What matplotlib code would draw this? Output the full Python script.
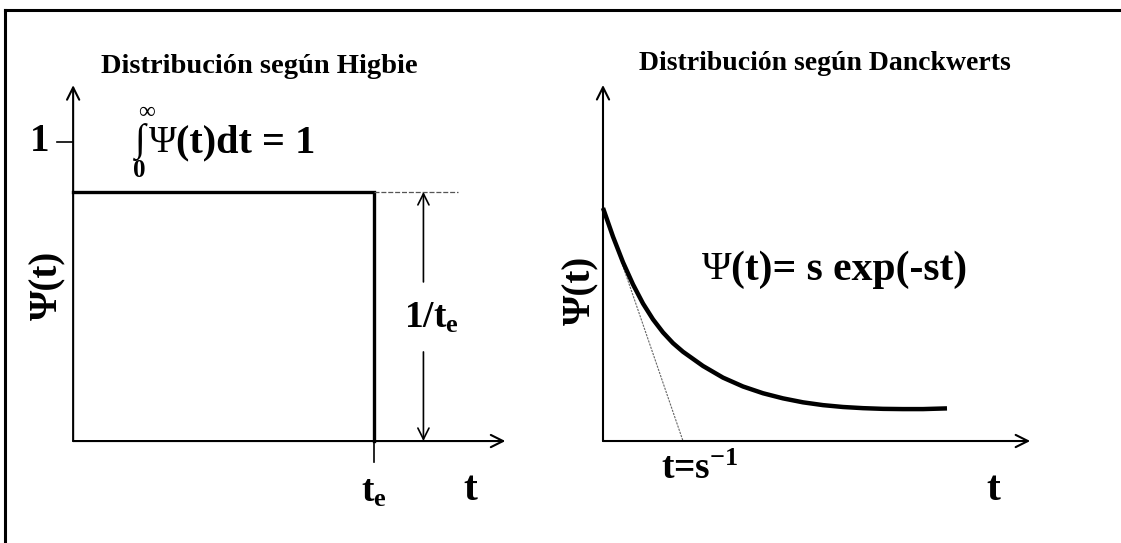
import matplotlib.pyplot as plt
import numpy as np

plt.rcParams['font.family'] = ['Liberation Serif', 'DejaVu Serif']
plt.rcParams['font.weight'] = 'bold'
plt.rcParams['mathtext.fontset'] = 'custom'
plt.rcParams['mathtext.rm'] = 'Liberation Serif:bold'
plt.rcParams['mathtext.it'] = 'Liberation Serif:bold'
plt.rcParams['mathtext.bf'] = 'Liberation Serif:bold'

# Higbie: uniform age distribution up to t_e
t_e = 1.0
psi_higbie = 0.833

# Danckwerts: psi(t) curve, t in units of 1/s, psi in units of s
t_dk = [0.0, 0.125, 0.25, 0.375, 0.5, 0.625, 0.75, 0.875, 1.0, 1.25, 1.5,
        1.75, 2.0, 2.25, 2.5, 2.75, 3.0, 3.25, 3.5, 3.75, 4.0, 4.3]
psi_dk = [1.00, 0.877, 0.767, 0.672, 0.59, 0.522, 0.466, 0.42, 0.383,
          0.322, 0.272, 0.234, 0.205, 0.183, 0.166, 0.154, 0.146, 0.141,
          0.138, 0.137, 0.137, 0.14]
t_tangent = [0.0, 1.0]
psi_tangent = [1.0, 0.0]

fig = plt.figure(figsize=(11.21, 5.43), dpi=100)

# frame around the figure (top and left edges only)
frame = fig.add_axes([5 / 1121, 0, 1, 533 / 543])
frame.set_xticks([])
frame.set_yticks([])
for side in ['right', 'bottom']:
    frame.spines[side].set_visible(False)
for side in ['top', 'left']:
    frame.spines[side].set_linewidth(2.2)
frame.patch.set_alpha(0)


def axis_arrow(ax, tip, lw=1.5):
    ax.annotate('', xy=tip, xytext=(0, 0),
                arrowprops=dict(arrowstyle='->', lw=lw, color='black',
                                mutation_scale=22, shrinkA=0, shrinkB=0))


# ---- left panel: Higbie ----
ax1 = fig.add_axes([40 / 1121, 23 / 543, 500 / 1121, 480 / 543])
ax1.set_xlim(-0.11, 1.55)
ax1.set_ylim(-0.264, 1.341)
ax1.axis('off')

axis_arrow(ax1, (1.435, 0))
axis_arrow(ax1, (0, 1.19))
ax1.plot([0, t_e, t_e], [psi_higbie, psi_higbie, 0], color='black', lw=2.4,
         solid_joinstyle='miter')
ax1.plot([t_e, t_e], [0, -0.07], color='black', lw=1.2)
ax1.plot([t_e, 1.279], [psi_higbie, psi_higbie], color='#555555', lw=0.9,
         ls=(0, (4, 1.5)))
ax1.plot([-0.053, 0], [1, 1], color='black', lw=1.2)

# height marker 1/t_e
ax1.annotate('', xy=(1.163, psi_higbie), xytext=(1.163, 0.532),
             arrowprops=dict(arrowstyle='->', lw=1.2, color='black',
                             mutation_scale=20, shrinkA=0, shrinkB=0))
ax1.annotate('', xy=(1.163, 0), xytext=(1.163, 0.298),
             arrowprops=dict(arrowstyle='->', lw=1.2, color='black',
                             mutation_scale=20, shrinkA=0, shrinkB=0))
ax1.text(1.19, 0.41, r'1/t$_\mathrm{e}$', fontsize=27, ha='center', va='center')

ax1.text(0.618, 1.254, 'Distribución según Higbie', fontsize=20.5,
         ha='center', va='center')
ax1.text(-0.11, 1.0, '1', fontsize=28, ha='center', va='center')
ax1.text(-0.085, 0.52, 'Ψ(t)', fontsize=28, rotation=90,
         ha='center', va='center')
ax1.text(t_e, -0.17, r't$_\mathrm{e}$', fontsize=27, ha='center', va='center')
ax1.text(1.319, -0.165, 't', fontsize=30, ha='center', va='center')

# normalisation condition
ax1.text(0.223, 1.0, '∫', fontsize=28, fontweight='normal',
         ha='center', va='center')
ax1.text(0.243, 1.10, '∞', fontsize=17, fontweight='normal',
         ha='center', va='center')
ax1.text(0.219, 0.905, '0', fontsize=18, ha='center', va='center')
ax1.text(0.252, 0.997, 'Ψ', fontsize=27, fontweight='normal',
         ha='left', va='center')
ax1.text(0.342, 0.997, '(t)dt = 1', fontsize=29, ha='left', va='center')

# ---- right panel: Danckwerts ----
ax2 = fig.add_axes([560 / 1121, 23 / 543, 540 / 1121, 480 / 543])
ax2.set_xlim(-0.5375, 6.2125)
ax2.set_ylim(-0.339, 1.721)
ax2.axis('off')

axis_arrow(ax2, (5.34, 0))
axis_arrow(ax2, (0, 1.528))
ax2.plot(t_tangent, psi_tangent, color='#666666', lw=0.8, ls=(0, (2, 1)))
ax2.plot(t_dk, psi_dk, color='black', lw=3.2, solid_capstyle='butt',
         solid_joinstyle='round')

ax2.text(2.775, 1.618, 'Distribución según Danckwerts', fontsize=20,
         ha='center', va='center')
ax2.text(-0.275, 0.648, 'Ψ(t)', fontsize=28, rotation=90,
         ha='center', va='center')
ax2.text(1.24, 0.734, 'Ψ', fontsize=29, fontweight='normal',
         ha='left', va='center')
ax2.text(1.6, 0.734, '(t)= s exp(-st)', fontsize=30, ha='left', va='center')
ax2.text(1.21, -0.124, r't=s$^{-1}$', fontsize=27, ha='center', va='center')
ax2.text(4.875, -0.21, 't', fontsize=30, ha='center', va='center')

fig.savefig('out.png', dpi=100)
